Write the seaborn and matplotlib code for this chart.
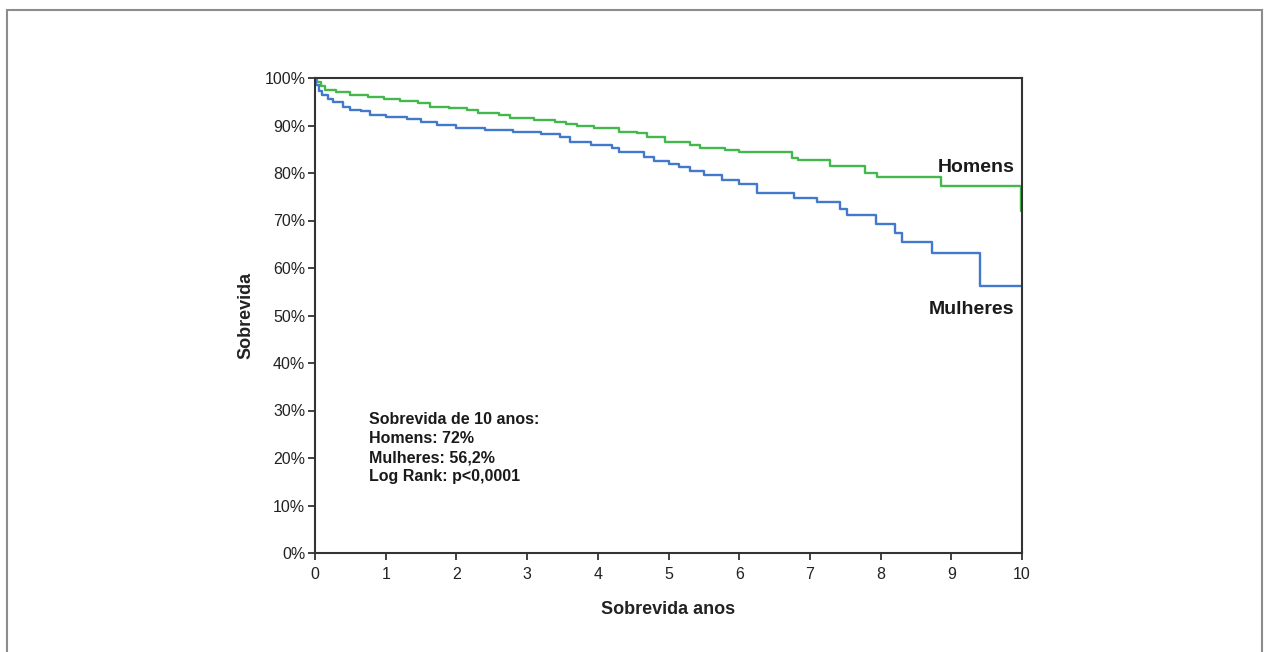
import matplotlib
matplotlib.use("Agg")
import matplotlib.pyplot as plt
import matplotlib.patches as mpatches
from matplotlib import font_manager
import seaborn as sns
import pandas as pd

# ---- data ----
hom_t = [0, 0.03, 0.08, 0.14, 0.3, 0.5, 0.75, 0.97, 1.2, 1.45, 1.63, 1.9, 2.15, 2.3, 2.6,
         2.76, 3.1, 3.4, 3.55, 3.7, 3.95, 4.3, 4.55, 4.7, 4.95, 5.3, 5.45, 5.8, 6.0, 6.75,
         6.83, 7.28, 7.78, 7.95, 8.86, 9.98, 10]
hom_s = [100, 99.2, 98.3, 97.5, 97.0, 96.4, 96.0, 95.5, 95.1, 94.7, 94.0, 93.6, 93.3, 92.6, 92.3,
         91.5, 91.2, 90.8, 90.3, 89.8, 89.4, 88.7, 88.4, 87.6, 86.6, 85.8, 85.3, 84.9, 84.4, 83.2,
         82.7, 81.5, 80.0, 79.2, 77.3, 71.9, 71.9]
muh_t = [0, 0.02, 0.05, 0.1, 0.18, 0.26, 0.4, 0.5, 0.65, 0.78, 1.0, 1.3, 1.5, 1.72, 2.0, 2.4,
         2.8, 3.2, 3.47, 3.6, 3.9, 4.2, 4.3, 4.65, 4.8, 5.0, 5.15, 5.3, 5.5, 5.75, 6.0, 6.25, 6.77,
         7.1, 7.43, 7.52, 7.94, 8.2, 8.3, 8.72, 9.4, 10]
muh_s = [100, 98.5, 97.3, 96.4, 95.6, 95.0, 94.0, 93.3, 93.0, 92.2, 91.8, 91.3, 90.8, 90.1, 89.4, 89.0,
         88.7, 88.2, 87.6, 86.6, 85.9, 85.2, 84.5, 83.4, 82.5, 82.0, 81.2, 80.5, 79.6, 78.5, 77.7, 75.7, 74.7,
         73.8, 72.5, 71.2, 69.3, 67.3, 65.4, 63.1, 56.2, 56.2]
groups = ["Homens", "Mulheres"]
x_ticks = list(range(0, 11))
y_ticks = list(range(0, 101, 10))
y_ticklabels = [f"{v}%" for v in y_ticks]
annot_lines = ["Sobrevida de 10 anos:", "Homens: 72%", "Mulheres: 56,2%", "Log Rank: p<0,0001"]

df = pd.concat([
    pd.DataFrame({"t": hom_t, "s": hom_s, "g": groups[0]}),
    pd.DataFrame({"t": muh_t, "s": muh_s, "g": groups[1]}),
])

sns.set_theme(style="white")
names = {f.name for f in font_manager.fontManager.ttflist}
narrow = "Liberation Sans Narrow" if "Liberation Sans Narrow" in names else "Liberation Sans"
plt.rcParams["font.family"] = ["Liberation Sans", "DejaVu Sans"]

W, H = 1267, 652
fig = plt.figure(figsize=(W / 100, H / 100), dpi=100)
ax = fig.add_axes([315 / W, 1 - 553 / H, (1022 - 315) / W, (553 - 78) / H])

# outer frame
fig.patches.append(mpatches.Rectangle((7 / W, -0.1), (1262 - 7) / W, 1.1 - 10 / H,
                                      transform=fig.transFigure, fill=False,
                                      edgecolor="#8c8c8c", linewidth=1.5))

sns.lineplot(data=df, x="t", y="s", hue="g", hue_order=groups,
             palette={"Homens": "#45b84d", "Mulheres": "#4279cc"},
             drawstyle="steps-post", linewidth=1.7, legend=False, ax=ax, estimator=None)

ax.set_xlim(0, 10)
ax.set_ylim(0, 100)
ax.set_xticks(x_ticks)
ax.set_xticklabels([str(v) for v in x_ticks], fontsize=11.5)
ax.set_yticks(y_ticks)
ax.set_yticklabels(y_ticklabels, fontsize=11.5)
ax.tick_params(axis="both", direction="out", length=5, width=1.3, color="#333333",
               labelcolor="#222222", bottom=True, left=True)
ax.tick_params(axis="x", pad=5)
ax.tick_params(axis="y", pad=2)
for sp in ax.spines.values():
    sp.set_color("#333333")
    sp.set_linewidth(1.5)

ax.set_xlabel("Sobrevida anos", fontsize=13, fontweight="bold", family=narrow,
              color="#222222", labelpad=14)
ax.set_ylabel("Sobrevida", fontsize=13, fontweight="bold", family=narrow,
              color="#222222", labelpad=7)

ax.text(9.89, 81.2, "Homens", ha="right", va="center", fontsize=14, fontweight="bold",
        family=narrow, color="#1a1a1a")
ax.text(9.89, 51.2, "Mulheres", ha="right", va="center", fontsize=14, fontweight="bold",
        family=narrow, color="#1a1a1a")

for i, line in enumerate(annot_lines):
    ax.text(0.76, 28.0 - i * 3.95, line, ha="left", va="center", fontsize=11.5,
            fontweight="bold", family=narrow, color="#1a1a1a")

fig.savefig("out.png", dpi=100, facecolor="white")
